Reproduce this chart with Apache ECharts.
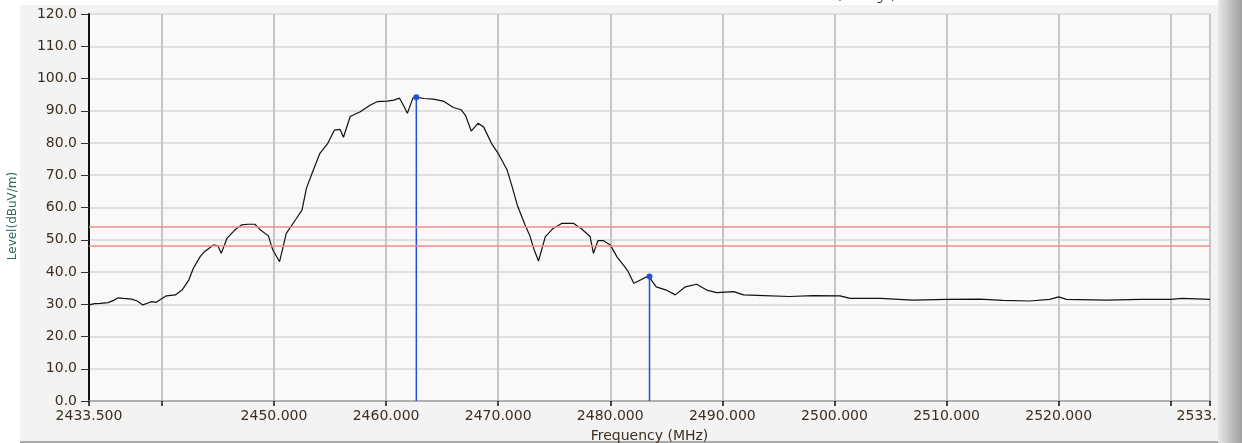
<!DOCTYPE html>
<html>
<head>
<meta charset="utf-8">
<script src="https://cdn.jsdelivr.net/npm/echarts@6/dist/echarts.min.js"></script>
<style>
html,body{margin:0;padding:0;background:#ffffff;width:1242px;height:443px;overflow:hidden;}
#panel{position:absolute;left:20px;top:5px;width:1198px;height:436px;background:#f3f3f3;border-bottom:2px solid #a9a9a9;}
#chart{position:absolute;left:0;top:0;width:1242px;height:443px;}
#edge{position:absolute;left:1218px;top:0;width:24px;height:443px;background:linear-gradient(to right,#e8e8e8,#c6c6c6 45%,#9f9f9f);}
</style>
</head>
<body>
<div id="panel"></div>
<div id="chart"></div>
<div id="edge"></div>
<script>
// Trace: frequency (MHz) and level (dBuV/m)
const freqs = [
  2433.5, 2434.0, 2434.5, 2435.2, 2435.7, 2436.1, 2436.6, 2437.3, 2437.8, 2438.3,
  2438.7, 2439.1, 2439.5, 2439.8, 2440.4, 2441.2, 2441.8, 2442.4, 2442.8, 2443.4,
  2443.8, 2444.6, 2445.0, 2445.3, 2445.8, 2446.5, 2447.1, 2447.7, 2448.3, 2448.8,
  2449.5, 2449.9, 2450.5, 2451.1, 2452.0, 2452.5, 2452.9, 2453.4, 2454.1, 2454.8,
  2455.4, 2455.9, 2456.2, 2456.8, 2457.7, 2458.6, 2459.2, 2460.1, 2460.7, 2461.2,
  2461.5, 2461.9, 2462.4, 2462.7, 2463.4, 2464.2, 2465.1, 2466.0, 2466.7, 2467.1,
  2467.6, 2468.2, 2468.7, 2469.4, 2470.0, 2470.8, 2471.2, 2471.7, 2472.4, 2472.8,
  2473.2, 2473.6, 2474.2, 2474.9, 2475.7, 2476.7, 2477.4, 2478.2, 2478.5, 2478.9,
  2479.4, 2480.0, 2480.6, 2481.3, 2481.6, 2482.1, 2482.7, 2483.4, 2484.1, 2485.0,
  2485.8, 2486.7, 2487.7, 2488.6, 2489.5, 2491.0, 2491.9, 2493.7, 2496.0, 2498.1,
  2500.5, 2501.4, 2504.1, 2507.0, 2510.0, 2513.0, 2515.0, 2517.4, 2519.2, 2520.0,
  2520.7, 2524.3, 2527.3, 2530.0, 2531.0, 2533.5
];
const levels = [
  29.8, 30.2, 30.3, 30.5, 31.2, 32.0, 31.8, 31.6, 31.0, 29.8,
  30.3, 30.8, 30.6, 31.3, 32.6, 32.9, 34.4, 37.5, 41.1, 44.7,
  46.3, 48.4, 48.1, 45.8, 50.4, 53.0, 54.6, 54.8, 54.8, 53.0,
  51.2, 46.8, 43.2, 52.0, 56.6, 59.2, 66.0, 70.6, 76.8, 79.9,
  84.0, 84.2, 81.8, 88.2, 89.7, 91.8, 92.8, 93.0, 93.3, 93.9,
  92.0, 89.2, 94.0, 94.2, 93.8, 93.6, 93.0, 91.0, 90.3, 88.5,
  83.7, 86.1, 85.0, 79.9, 76.8, 71.6, 67.0, 60.8, 54.6, 51.5,
  47.0, 43.4, 50.9, 53.5, 55.1, 55.1, 53.5, 51.0, 45.8, 49.7,
  49.7, 48.4, 44.7, 41.6, 40.1, 36.5, 37.5, 38.8, 35.4, 34.4,
  32.9, 35.4, 36.2, 34.4, 33.6, 33.9, 32.9, 32.7, 32.4, 32.7,
  32.6, 31.8, 31.8, 31.3, 31.5, 31.6, 31.2, 31.0, 31.5, 32.3,
  31.5, 31.3, 31.5, 31.5, 31.8, 31.5
];
// Limit lines (dBuV/m)
const limitLevels = [54, 48];
// Peak markers
const markerFreqs = [2462.7, 2483.5];
const markerLevels = [94.2, 38.6];
// Axis ticks / labels
const xTickValues = [2433.5, 2440, 2450, 2460, 2470, 2480, 2490, 2500, 2510, 2520, 2530, 2533.5];
const xLabelValues = [2433.5, 2450, 2460, 2470, 2480, 2490, 2500, 2510, 2520, 2533.5];
const yMin = 0, yMax = 120, yStep = 10;

const FONT = 'DejaVu Sans';
const LABEL_COLOR = '#3d2f1f';

const chart = echarts.init(document.getElementById('chart'), null, {renderer: 'canvas'});

const traceData = freqs.map((f, i) => [f, levels[i]]);

const markerSeries = markerFreqs.map((f, i) => ({
  type: 'line',
  silent: true,
  z: 4,
  data: [
    {value: [f, yMin], symbol: 'none'},
    {value: [f, markerLevels[i]], symbol: 'circle', symbolSize: 6}
  ],
  lineStyle: {color: '#1f52d6', width: 1.5},
  itemStyle: {color: '#1f52d6'}
}));

chart.setOption({
  animation: false,
  backgroundColor: 'transparent',
  grid: {
    left: 89, right: 32, top: 14, bottom: 42,
    containLabel: false, outerBoundsMode: 'none',
    show: true, backgroundColor: '#f9f9f9', borderColor: '#6a6a6a', borderWidth: 1
  },
  graphic: [{
    type: 'text', left: 837, top: -9, silent: true,
    style: {text: '(Average)', font: '12px "DejaVu Sans"', fill: '#333'}
  }],
  xAxis: {
    type: 'value',
    min: freqs[0], max: freqs[freqs.length - 1],
    name: 'Frequency (MHz)', nameLocation: 'middle', nameGap: 28,
    nameTextStyle: {color: LABEL_COLOR, fontFamily: FONT, fontSize: 14},
    axisLine: {show: true, onZero: false, lineStyle: {color: '#a0a0a0', width: 1.5}},
    axisTick: {show: true, inside: false, length: 5, customValues: xTickValues, lineStyle: {color: '#111', width: 1.5}},
    axisLabel: {
      show: true, customValues: xLabelValues, margin: 8,
      color: LABEL_COLOR, fontFamily: FONT, fontSize: 14,
      formatter: v => Number(v).toFixed(3)
    },
    splitLine: {show: true, lineStyle: {color: '#c6c6c6', width: 2}}
  },
  yAxis: {
    type: 'value', min: yMin, max: yMax, interval: yStep,
    name: 'Level(dBuV/m)', nameLocation: 'middle', nameGap: 70,
    nameTextStyle: {color: '#2b6b62', fontFamily: FONT, fontSize: 12, padding: [0, 17, 0, 0]},
    axisLine: {show: true, onZero: false, lineStyle: {color: '#111', width: 2}},
    axisTick: {show: true, inside: false, length: 8, lineStyle: {color: '#333', width: 1}},
    axisLabel: {
      margin: 12, color: LABEL_COLOR, fontFamily: FONT, fontSize: 14,
      formatter: v => Number(v).toFixed(1)
    },
    splitLine: {show: true, lineStyle: {color: '#e0e0e0', width: 2}}
  },
  series: [{
    type: 'line',
    data: traceData,
    showSymbol: false,
    silent: true,
    z: 3,
    lineStyle: {color: '#111111', width: 1.2},
    markLine: {
      silent: true, symbol: 'none', label: {show: false},
      lineStyle: {color: '#f28b8b', width: 1.5, type: 'solid'},
      data: limitLevels.map(y => ({yAxis: y}))
    }
  }].concat(markerSeries)
});
</script>
</body>
</html>
